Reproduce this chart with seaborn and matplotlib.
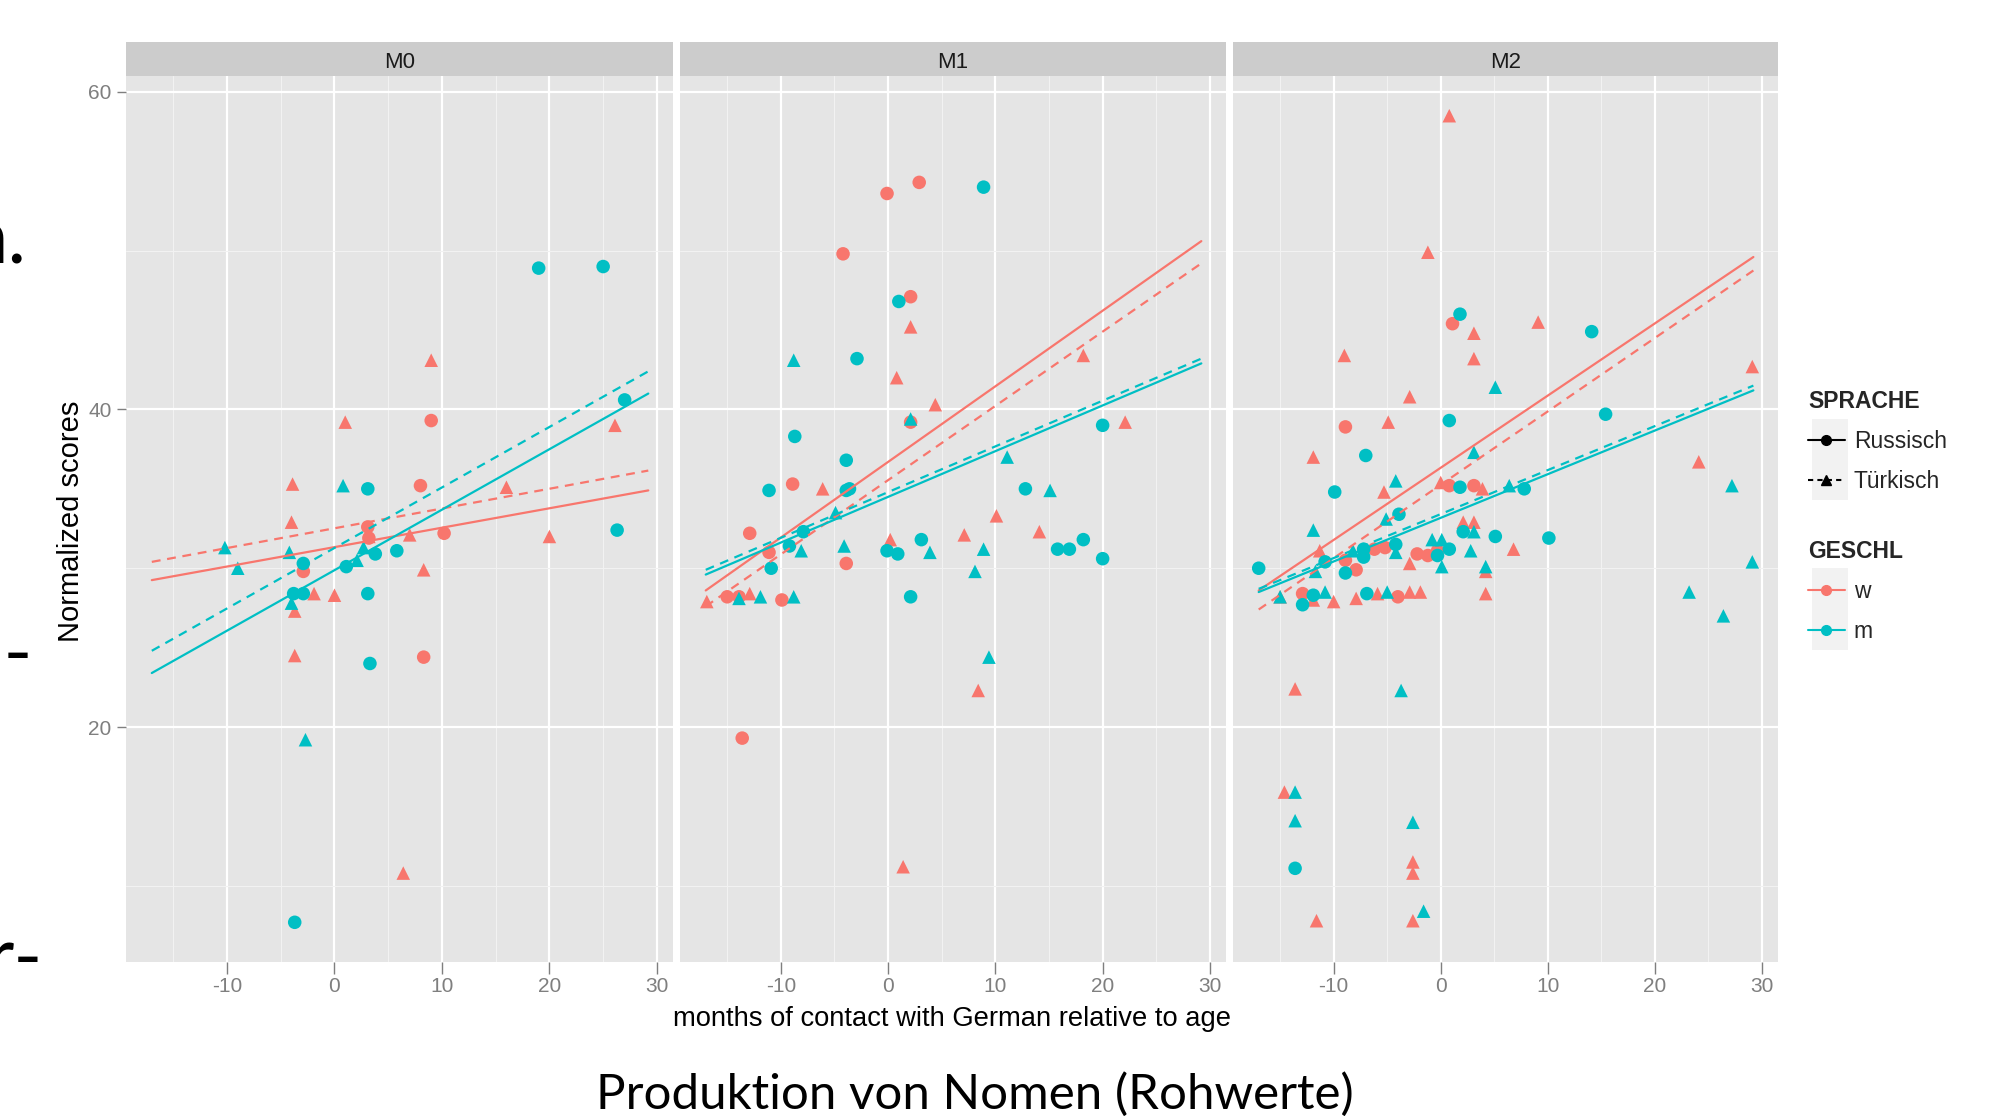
import matplotlib
matplotlib.use("Agg")
import matplotlib.pyplot as plt
from matplotlib.lines import Line2D
from matplotlib.patches import Rectangle
from matplotlib.ticker import MultipleLocator
import pandas as pd
import seaborn as sns

RED = "#F8766D"
TEAL = "#00BFC4"

PANELS = ["M0", "M1", "M2"]
GESCHL = ["w", "m"]
SPRACHE = ["Russisch", "Türkisch"]

# ---- M0 ----
M0_W_RUS_X = [9.0, 8.0, 3.1, 3.2, 10.2, -2.9, 8.3]
M0_W_RUS_Y = [39.3, 35.2, 32.6, 31.9, 32.2, 29.8, 24.4]
M0_W_TUR_X = [9.0, 1.0, -3.9, -4.0, 16.0, 7.0, 3.2, 26.1, 20.0, 8.3, -1.9, 0.0, -3.7, -3.7, 6.4]
M0_W_TUR_Y = [43.1, 39.2, 35.3, 32.9, 35.1, 32.1, 32.0, 39.0, 32.0, 29.9, 28.4, 28.3, 27.3, 24.5, 10.8]
M0_M_RUS_X = [19.0, 25.0, 27.0, 26.3, 3.1, -2.9, 1.1, 3.8, 5.8, -2.9, 3.1, -3.8, 3.3, -3.7]
M0_M_RUS_Y = [48.9, 49.0, 40.6, 32.4, 35.0, 30.3, 30.1, 30.9, 31.1, 28.4, 28.4, 28.4, 24.0, 7.7]
M0_M_TUR_X = [-10.2, -9.0, -4.2, 0.8, 2.1, 2.7, -4.0, -2.7]
M0_M_TUR_Y = [31.3, 30.0, 31.0, 35.2, 30.5, 31.3, 27.8, 19.2]

# ---- M1 ----
M1_W_RUS_X = [-0.1, 2.9, -4.2, 2.1, 2.1, -8.9, -12.9, -11.1, -3.9, -15.0, -13.9, -9.9, -13.6]
M1_W_RUS_Y = [53.6, 54.3, 49.8, 47.1, 39.2, 35.3, 32.2, 31.0, 30.3, 28.2, 28.2, 28.0, 19.3]
M1_W_TUR_X = [2.1, 0.8, 4.4, 18.2, 22.1, -6.1, 10.1, 7.1, 14.1, 0.2, -16.9, -12.9, 8.4, 1.4]
M1_W_TUR_Y = [45.2, 42.0, 40.3, 43.4, 39.2, 35.0, 33.3, 32.1, 32.3, 31.8, 27.9, 28.4, 22.3, 11.2]
M1_M_RUS_X = [8.9, 1.0, -2.9, -8.7, -3.9, -3.9, -3.6, -11.1, -7.9, -9.2, -10.9,
              -0.1, 0.9, 3.1, 12.8, 15.8, 16.9, 18.2, 20.0, 20.0, 2.1]
M1_M_RUS_Y = [54.0, 46.8, 43.2, 38.3, 36.8, 34.9, 35.0, 34.9, 32.3, 31.4, 30.0,
              31.1, 30.9, 31.8, 35.0, 31.2, 31.2, 31.8, 30.6, 39.0, 28.2]
M1_M_TUR_X = [-8.8, -4.9, -4.1, -8.1, 3.9, 8.9, 8.1, 11.1, 15.1, -13.9, -11.9, -8.8, 9.4, 2.1]
M1_M_TUR_Y = [43.1, 33.5, 31.4, 31.1, 31.0, 31.2, 29.8, 37.0, 34.9, 28.1, 28.2, 28.2, 24.4, 39.4]

# ---- M2 ----
M2_W_RUS_X = [1.1, -8.9, 0.8, 3.1, -6.2, -5.2, -2.2, -1.2, -0.3, -8.9, -7.9, -12.9, -4.0]
M2_W_RUS_Y = [45.4, 38.9, 35.2, 35.2, 31.2, 31.3, 30.9, 30.8, 31.1, 30.5, 29.9, 28.4, 28.2]
M2_W_TUR_X = [0.8, -1.2, -9.0, 3.1, 3.1, 9.1, -2.9, -4.9, -11.9, 29.1, 24.1, -5.3, 0.0, 3.1,
              2.1, 3.9, 6.8, -2.9, -11.3, -15.0, -11.9, -10.0, -7.9, -5.9, -2.9, -1.9, 4.2,
              4.2, -13.6, -14.6, -2.6, -2.6, -11.6, -2.6]
M2_W_TUR_Y = [58.5, 49.9, 43.4, 44.8, 43.2, 45.5, 40.8, 39.2, 37.0, 42.7, 36.7, 34.8, 35.4, 32.9,
              32.9, 35.0, 31.2, 30.3, 31.1, 28.2, 28.0, 27.9, 28.1, 28.4, 28.5, 28.5, 28.4,
              29.8, 22.4, 15.9, 11.5, 10.8, 7.8, 7.8]
M2_M_RUS_X = [1.8, 14.1, 0.8, 15.4, -7.0, -9.9, -3.9, 1.8, 7.8, 5.1, 10.1, 2.1, 0.8, -0.3,
              -4.2, -7.2, -7.2, -8.9, -10.8, -17.0, -6.9, -11.9, -12.9, -13.6]
M2_M_RUS_Y = [46.0, 44.9, 39.3, 39.7, 37.1, 34.8, 33.4, 35.1, 35.0, 32.0, 31.9, 32.3, 31.2, 30.8,
              31.5, 31.2, 30.7, 29.7, 30.4, 30.0, 28.4, 28.3, 27.7, 11.1]
M2_M_TUR_X = [5.1, 3.1, -4.2, 6.4, -5.1, -11.9, -0.8, 0.1, 3.1, 2.8, -4.2, -8.2, -7.2, -11.7,
              0.1, 4.2, -15.0, -10.8, -5.0, 23.2, 27.2, 29.1, 26.4, -3.7, -13.6, -13.6, -2.6, -1.6]
M2_M_TUR_Y = [41.4, 37.3, 35.5, 35.2, 33.1, 32.4, 31.8, 31.8, 32.3, 31.1, 31.0, 31.1, 31.2, 29.8,
              30.1, 30.1, 28.2, 28.5, 28.5, 28.5, 35.2, 30.4, 27.0, 22.3, 15.9, 14.1, 14.0, 8.4]

# fitted lines, start/end y at LINE_X, order: w-Russisch, w-Türkisch, m-Russisch, m-Türkisch
LINE_X = [-17.0, 29.2]
M0_LINE_START = [29.25, 30.4, 23.4, 24.8]
M0_LINE_END = [34.9, 36.15, 41.0, 42.4]
M1_LINE_START = [28.6, 27.6, 29.6, 29.9]
M1_LINE_END = [50.6, 49.2, 42.9, 43.2]
M2_LINE_START = [28.6, 27.4, 28.5, 28.7]
M2_LINE_END = [49.6, 48.75, 41.2, 41.5]

POINTS = {
    "M0": [(M0_W_RUS_X, M0_W_RUS_Y), (M0_W_TUR_X, M0_W_TUR_Y), (M0_M_RUS_X, M0_M_RUS_Y), (M0_M_TUR_X, M0_M_TUR_Y)],
    "M1": [(M1_W_RUS_X, M1_W_RUS_Y), (M1_W_TUR_X, M1_W_TUR_Y), (M1_M_RUS_X, M1_M_RUS_Y), (M1_M_TUR_X, M1_M_TUR_Y)],
    "M2": [(M2_W_RUS_X, M2_W_RUS_Y), (M2_W_TUR_X, M2_W_TUR_Y), (M2_M_RUS_X, M2_M_RUS_Y), (M2_M_TUR_X, M2_M_TUR_Y)],
}
LINES = {
    "M0": (M0_LINE_START, M0_LINE_END),
    "M1": (M1_LINE_START, M1_LINE_END),
    "M2": (M2_LINE_START, M2_LINE_END),
}
GROUPS = [("w", "Russisch"), ("w", "Türkisch"), ("m", "Russisch"), ("m", "Türkisch")]


def _points_df(panel: str) -> pd.DataFrame:
    rows = []
    for (sex, lang), (xs, ys) in zip(GROUPS, POINTS[panel]):
        for x, y in zip(xs, ys):
            rows.append({"x": x, "y": y, "GESCHL": sex, "SPRACHE": lang})
    return pd.DataFrame(rows)


def _lines_df(panel: str) -> pd.DataFrame:
    starts, ends = LINES[panel]
    rows = []
    for (sex, lang), y0, y1 in zip(GROUPS, starts, ends):
        rows.append({"x": LINE_X[0], "y": y0, "GESCHL": sex, "SPRACHE": lang})
        rows.append({"x": LINE_X[1], "y": y1, "GESCHL": sex, "SPRACHE": lang})
    return pd.DataFrame(rows)


sns.set_theme(style="darkgrid", rc={"axes.facecolor": "#E5E5E5", "grid.color": "white"})
plt.rcParams["font.family"] = ["Liberation Sans", "DejaVu Sans"]
plt.rcParams["axes.unicode_minus"] = False

W, H = 1991, 1116
fig = plt.figure(figsize=(W / 100, H / 100), dpi=100)
fig.patch.set_facecolor("white")

lefts = [126, 680, 1233]
widths = [547, 546, 545]
top_px, bottom_px, strip_px = 76, 962, 34
palette = {"w": RED, "m": TEAL}
markers = {"Russisch": "o", "Türkisch": "^"}
dashes = {"Russisch": "", "Türkisch": (4, 3)}

for i, panel in enumerate(PANELS):
    ax = fig.add_axes([lefts[i] / W, 1 - bottom_px / H, widths[i] / W, (bottom_px - top_px) / H])
    sns.scatterplot(data=_points_df(panel), x="x", y="y", hue="GESCHL", style="SPRACHE",
                    hue_order=GESCHL, style_order=SPRACHE, palette=palette, markers=markers,
                    s=95, linewidth=0, legend=False, ax=ax, zorder=3)
    sns.lineplot(data=_lines_df(panel), x="x", y="y", hue="GESCHL", style="SPRACHE",
                 hue_order=GESCHL, style_order=SPRACHE, palette=palette, dashes=dashes,
                 linewidth=1.6, legend=False, ax=ax, zorder=4)
    ax.set_xlim(-19.4, 31.5)
    ax.set_ylim(5.2, 61.0)
    ax.xaxis.set_major_locator(MultipleLocator(10))
    ax.xaxis.set_minor_locator(MultipleLocator(5))
    ax.yaxis.set_major_locator(MultipleLocator(20))
    ax.yaxis.set_minor_locator(MultipleLocator(10))
    ax.grid(which="major", color="white", linewidth=1.6)
    ax.grid(which="minor", color="#F2F2F2", linewidth=0.8)
    ax.set_axisbelow(True)
    for sp in ax.spines.values():
        sp.set_visible(False)
    ax.set_xlabel("")
    ax.set_ylabel("")
    ax.tick_params(axis="x", which="major", length=8.5, width=1, color="#7F7F7F",
                   labelcolor="#7F7F7F", labelsize=15, pad=2.5, bottom=True)
    ax.tick_params(axis="y", which="major", length=6.5, width=1, color="#7F7F7F",
                   labelcolor="#7F7F7F", labelsize=15, pad=4, left=(i == 0))
    ax.tick_params(which="minor", length=0)
    if i > 0:
        ax.set_yticklabels([])
    # facet strip
    sax = fig.add_axes([lefts[i] / W, 1 - top_px / H, widths[i] / W, strip_px / H])
    sax.set_facecolor("#CCCCCC")
    sax.set_xticks([])
    sax.set_yticks([])
    sax.grid(False)
    for sp in sax.spines.values():
        sp.set_visible(False)
    sax.text(0.5, 0.39, panel, ha="center", va="center", fontsize=16, color="#1A1A1A",
             transform=sax.transAxes)

fig.text(952 / W, 1 - 1019 / H, "months of contact with German relative to age",
         ha="center", va="center", fontsize=19.7, color="black")
fig.text(71 / W, 1 - 521 / H, "Normalized scores", rotation=90,
         ha="center", va="center", fontsize=21, color="black")

# legend key backgrounds
for y0, y1 in [(419, 500), (568, 650)]:
    fig.add_artist(Rectangle((1812 / W, 1 - y1 / H), 36 / W, (y1 - y0) / H,
                             transform=fig.transFigure, facecolor="#F2F2F2",
                             edgecolor="none", zorder=0))

h_lang = [Line2D([0], [0], color="black", lw=1.5, marker="o", ms=7),
          Line2D([0], [0], color="black", lw=1.5, ls=(0, (2.5, 2)), marker="^", ms=7)]
h_sex = [Line2D([0], [0], color=RED, lw=1.5, marker="o", ms=7),
         Line2D([0], [0], color=TEAL, lw=1.5, marker="o", ms=7)]
common = dict(loc="upper left", frameon=False, fontsize=16.5, alignment="left",
              title_fontproperties={"weight": "bold", "size": 16.5}, handlelength=1.6,
              handletextpad=0.4, labelspacing=0.75, borderaxespad=0, borderpad=0)
fig.legend(handles=h_lang, labels=SPRACHE, title="SPRACHE",
           bbox_to_anchor=(1808 / W, 1 - 390 / H), **common)
fig.legend(handles=h_sex, labels=GESCHL, title="GESCHL",
           bbox_to_anchor=(1808 / W, 1 - 540 / H), **common)

# slide text around the chart
fig.text(975 / W, 1 - 1109 / H, "Produktion von Nomen (Rohwerte)", ha="center", va="baseline",
         fontsize=35.5, family=["Lato", "DejaVu Sans"], color="black")
for txt, xr, yb in [("n.", 26, 263), ("n-", 33, 678), ("r-", 43, 982)]:
    fig.text(xr / W, 1 - yb / H, txt, ha="right", va="baseline", fontsize=56,
             family=["Lato", "DejaVu Sans"], color="black")

fig.savefig("out.png", dpi=100)
